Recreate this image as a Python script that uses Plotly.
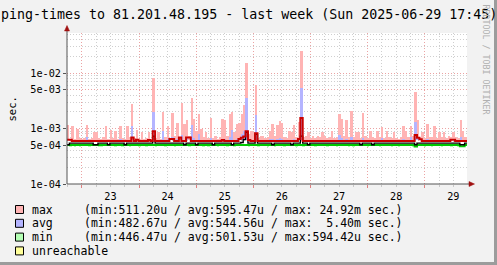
import plotly.graph_objects as go
import pandas as pd

# ---------------- data ----------------
START = "2025-06-22 17:45"
END = "2025-06-29 17:45"
TITLE = "ping-times to 81.201.48.195 - last week (Sun 2025-06-29 17:45)"
Y_TITLE = "sec."
WATERMARK = "RRDTOOL / TOBI OETIKER"

y_tickvals = [1e-4, 5e-4, 1e-3, 5e-3, 1e-2]
y_ticktext = ["1e-04", "5e-04", "1e-03", "5e-03", "1e-02"]

# hourly values, in units of 1e-4 s, starting at START
max_e4 = [
    11.4, 6.5, 11.0, 6.6, 10.0, 6.7, 6.4, 6.8, 11.4, 6.6, 6.8, 8.5,
    8.5, 6.7, 6.5, 6.9, 11.0, 6.6, 9.5, 6.7, 9.0, 6.6, 11.0, 6.8,
    6.6, 11.0, 6.9, 27.5, 6.7, 9.5, 6.6, 8.5, 6.5, 6.7, 8.5, 6.6,
    80.0, 6.8, 8.5, 6.6, 20.0, 6.9, 11.0, 6.7, 19.0, 7.2, 12.4, 7.0,
    29.0, 12.0, 14.0, 7.2, 35.0, 15.0, 9.0, 18.0, 10.0, 6.9, 8.5, 6.7,
    15.5, 6.8, 7.2, 6.6, 7.0, 15.0, 14.0, 7.3, 18.0, 20.0, 8.5, 12.0,
    12.5, 18.0, 26.0, 150.0, 7.8, 9.0, 8.5, 61.0, 6.8, 7.2, 7.2, 6.7,
    6.9, 9.0, 12.0, 7.2, 11.5, 13.5, 12.5, 7.0, 6.8, 9.0, 8.5, 11.5,
    7.0, 13.0, 249.0, 6.9, 7.2, 8.5, 6.7, 7.2, 6.8, 7.2, 6.9, 8.5,
    7.2, 6.7, 6.9, 9.0, 6.8, 7.0, 18.0, 15.0, 7.2, 14.5, 6.9, 21.0,
    6.9, 8.5, 8.5, 6.8, 19.0, 7.2, 6.7, 9.0, 6.9, 6.8, 9.0, 6.9,
    10.6, 6.8, 9.0, 6.9, 6.7, 8.5, 6.8, 6.6, 6.9, 11.0, 9.0, 6.9,
    11.0, 7.2, 46.0, 14.0, 7.0, 8.5, 6.8, 12.0, 6.9, 7.0, 11.0, 6.8,
    8.5, 6.9, 8.5, 6.8, 7.2, 6.9, 8.5, 7.0, 6.8, 14.0, 9.0, 6.9,
]

avg_e4 = [
    5.5, 5.4, 5.6, 5.5, 5.5, 5.4, 5.5, 5.6, 7.0, 5.5, 5.4, 5.5,
    5.6, 5.5, 5.4, 5.5, 5.6, 5.5, 5.5, 5.4, 5.6, 5.5, 6.5, 5.5,
    5.4, 5.5, 5.6, 11.0, 5.5, 5.6, 5.4, 5.5, 5.5, 5.4, 5.6, 5.5,
    20.0, 5.5, 5.4, 5.6, 9.0, 5.5, 6.5, 5.5, 7.0, 5.4, 6.6, 5.5,
    7.5, 5.6, 6.8, 5.5, 11.7, 6.8, 5.5, 8.0, 5.6, 5.4, 5.5, 5.5,
    6.8, 5.5, 5.4, 5.5, 5.6, 6.6, 6.5, 5.5, 7.0, 9.5, 5.5, 6.6,
    6.8, 8.0, 9.0, 35.0, 5.6, 5.5, 5.4, 17.3, 5.5, 5.6, 5.4, 5.5,
    5.5, 6.4, 6.6, 5.5, 6.5, 6.8, 6.6, 5.4, 5.5, 5.6, 5.5, 6.5,
    5.5, 6.8, 54.0, 5.5, 5.4, 5.6, 5.5, 5.5, 5.4, 5.6, 5.5, 5.5,
    5.6, 5.4, 5.5, 5.5, 5.6, 5.4, 7.5, 6.8, 5.5, 6.6, 5.5, 7.0,
    5.5, 5.6, 5.4, 5.5, 6.8, 5.5, 5.6, 5.4, 5.5, 5.5, 5.6, 5.4,
    6.8, 5.5, 5.6, 5.5, 5.4, 5.5, 5.6, 5.5, 5.4, 6.5, 5.5, 5.6,
    7.0, 5.5, 13.3, 6.8, 5.6, 5.5, 5.4, 6.4, 5.5, 5.6, 6.2, 5.5,
    5.4, 5.5, 5.6, 5.5, 5.5, 5.4, 5.6, 5.5, 5.5, 7.0, 5.6, 5.5,
]

min_e4 = [
    5.0, 4.7, 5.0, 4.8, 5.0, 4.7, 5.0, 5.0, 5.0, 4.8, 5.0, 5.0,
    5.0, 4.7, 4.8, 5.0, 5.0, 5.0, 5.0, 5.0, 4.7, 5.0, 5.0, 4.8,
    5.0, 5.0, 4.7, 5.0, 5.0, 5.0, 4.8, 5.0, 5.0, 4.7, 5.0, 5.0,
    5.0, 4.8, 5.0, 5.0, 5.0, 4.7, 5.0, 5.0, 5.0, 4.8, 5.0, 5.0,
    5.0, 5.0, 5.0, 4.7, 5.0, 5.0, 5.0, 5.0, 5.0, 4.8, 5.0, 4.7,
    5.0, 5.0, 5.0, 4.8, 5.0, 5.0, 5.0, 4.7, 5.0, 5.0, 4.8, 5.0,
    5.0, 5.0, 5.0, 5.0, 4.7, 5.0, 5.0, 5.0, 4.8, 5.0, 5.0, 5.0,
    4.7, 5.0, 5.0, 4.8, 5.0, 5.0, 5.0, 4.7, 5.0, 5.0, 5.0, 5.0,
    4.8, 5.0, 5.0, 4.7, 5.0, 5.0, 5.0, 5.0, 4.8, 5.0, 5.0, 5.0,
    5.0, 4.7, 5.0, 5.0, 5.0, 4.8, 5.0, 5.0, 5.0, 5.0, 4.7, 5.0,
    4.8, 5.0, 5.0, 5.0, 5.0, 5.0, 4.7, 5.0, 5.0, 5.0, 5.0, 4.8,
    5.0, 5.0, 5.0, 5.0, 4.7, 5.0, 5.0, 4.8, 5.0, 5.0, 5.0, 5.0,
    5.0, 4.7, 5.0, 5.0, 5.0, 5.0, 4.8, 5.0, 5.0, 4.7, 5.0, 5.0,
    5.0, 4.8, 5.0, 5.0, 5.0, 4.7, 5.0, 5.0, 4.8, 5.0, 5.0, 5.0,
]

max_line_e4 = [
    6.3, 6.3, 5.95, 5.95, 5.95, 5.95, 5.95, 5.95, 5.95, 5.95, 5.95, 5.95,
    5.95, 5.95, 5.95, 5.95, 5.95, 5.95, 5.95, 5.95, 5.95, 5.95, 5.95, 5.95,
    5.95, 5.95, 5.95, 6.9, 5.95, 6.3, 5.95, 5.95, 5.95, 5.95, 6.2, 5.95,
    8.9, 5.95, 5.95, 5.95, 5.95, 5.95, 5.95, 6.5, 6.5, 5.95, 5.95, 6.9,
    5.95, 5.95, 6.9, 6.9, 5.95, 5.95, 5.95, 5.95, 5.95, 5.95, 5.95, 5.95,
    5.95, 5.95, 5.95, 5.95, 5.95, 6.2, 5.95, 5.95, 5.95, 5.95, 5.95, 5.95,
    6.5, 6.8, 7.2, 8.9, 6.2, 5.95, 5.95, 8.2, 5.95, 5.95, 5.95, 5.95,
    5.95, 5.95, 5.95, 5.95, 5.95, 5.95, 5.95, 5.95, 5.95, 5.95, 5.95, 5.95,
    5.95, 6.5, 15.4, 5.95, 5.95, 5.95, 5.95, 5.95, 5.95, 5.95, 5.95, 5.95,
    5.95, 5.95, 5.95, 5.95, 5.95, 5.95, 5.95, 5.95, 5.95, 5.95, 5.95, 5.95,
    5.95, 5.95, 5.95, 5.95, 5.95, 5.95, 5.95, 5.95, 5.95, 5.95, 5.95, 5.95,
    5.95, 5.95, 5.95, 5.95, 5.95, 5.95, 5.95, 5.95, 5.95, 5.95, 5.95, 5.95,
    5.95, 5.95, 7.6, 6.8, 6.4, 5.95, 5.95, 5.95, 5.95, 5.95, 5.95, 5.95,
    5.95, 5.95, 5.95, 5.95, 5.95, 6.3, 6.3, 5.95, 5.95, 5.95, 5.95, 5.95,
]

avg_line_e4 = [
    5.1, 5.45, 5.45, 5.45, 5.45, 5.45, 5.45, 5.45, 5.45, 5.45, 5.45, 5.1,
    5.1, 5.45, 5.45, 5.45, 5.45, 5.1, 5.45, 5.45, 5.45, 5.45, 5.45, 5.45,
    5.1, 5.45, 5.45, 5.45, 5.45, 5.45, 5.45, 5.45, 5.45, 5.45, 5.45, 5.45,
    7.3, 5.45, 5.45, 5.45, 5.45, 5.45, 5.45, 5.45, 5.45, 5.45, 5.45, 5.45,
    5.45, 5.1, 5.45, 5.45, 5.45, 5.45, 5.1, 5.45, 5.45, 5.45, 5.45, 5.45,
    5.45, 5.1, 5.45, 5.45, 5.45, 5.45, 5.45, 5.45, 5.45, 5.1, 5.45, 5.45,
    5.45, 5.6, 6.3, 8.5, 5.45, 5.45, 5.45, 7.9, 5.45, 5.45, 5.45, 5.45,
    5.45, 5.45, 5.1, 5.45, 5.45, 5.45, 5.45, 5.45, 5.45, 5.45, 5.1, 5.45,
    5.45, 5.45, 7.3, 5.45, 5.45, 5.1, 5.45, 5.45, 5.45, 5.45, 5.45, 5.45,
    5.45, 5.45, 5.45, 5.45, 5.45, 5.45, 5.45, 5.45, 5.45, 5.45, 5.45, 5.45,
    5.45, 5.45, 5.45, 5.1, 5.45, 5.45, 5.45, 5.45, 5.1, 5.45, 5.45, 5.45,
    5.45, 5.45, 5.45, 5.45, 5.45, 5.45, 5.45, 5.45, 5.45, 5.45, 5.45, 5.45,
    5.45, 5.45, 5.1, 5.45, 5.45, 5.45, 5.45, 5.45, 5.45, 5.45, 5.45, 5.45,
    5.45, 5.45, 5.45, 5.45, 5.45, 5.45, 5.45, 5.45, 5.45, 5.1, 5.1, 5.45,
]

min_line_e4 = [
    5.02, 5.02, 5.02, 5.02, 5.02, 5.02, 5.02, 5.02, 5.02, 5.02, 5.02, 5.02,
    5.02, 5.02, 5.02, 5.02, 5.02, 5.02, 5.02, 5.02, 5.02, 5.02, 5.02, 5.02,
    5.02, 5.02, 5.02, 5.02, 5.02, 5.02, 5.02, 5.02, 5.02, 5.02, 5.02, 5.02,
    5.02, 5.02, 5.02, 5.02, 5.02, 5.02, 5.02, 5.02, 5.02, 5.02, 5.02, 5.02,
    5.02, 5.02, 5.02, 5.02, 5.02, 5.02, 5.02, 5.02, 5.02, 5.02, 5.02, 5.02,
    5.02, 5.02, 5.02, 5.02, 5.02, 5.02, 5.02, 5.02, 5.02, 5.02, 5.02, 5.02,
    5.02, 5.02, 5.02, 5.02, 5.02, 5.02, 5.02, 5.02, 5.02, 5.02, 5.02, 5.02,
    5.02, 5.02, 5.02, 5.02, 5.02, 5.02, 5.02, 5.02, 5.02, 5.02, 5.02, 5.02,
    5.02, 5.02, 5.02, 5.02, 5.02, 5.02, 5.02, 5.02, 5.02, 5.02, 5.02, 5.02,
    5.02, 5.02, 5.02, 5.02, 5.02, 5.02, 5.02, 5.02, 5.02, 5.02, 5.02, 5.02,
    5.02, 5.02, 5.02, 5.02, 5.02, 5.02, 5.02, 5.02, 5.02, 5.02, 5.02, 5.02,
    5.02, 5.02, 5.02, 5.02, 5.02, 5.02, 5.02, 5.02, 5.02, 5.02, 5.02, 5.02,
    5.02, 5.02, 4.75, 5.02, 5.02, 5.02, 5.02, 5.02, 5.02, 5.02, 5.02, 5.02,
    5.02, 5.02, 5.02, 5.02, 5.02, 5.02, 5.02, 5.02, 5.02, 4.8, 4.8, 5.02,
]

legend_names = ["max", "avg", "min", "unreachable"]
legend_stats = [
    "(min:511.20u / avg:595.47u / max: 24.92m sec.)",
    "(min:482.67u / avg:544.56u / max:  5.40m sec.)",
    "(min:446.47u / avg:501.53u / max:594.42u sec.)",
    "",
]
legend_colors = ["#ffb4b4", "#b4b4ff", "#b4ffb4", "#ffff99"]

# ---------------- styling ----------------
W, H = 497, 265
PL, PT, PW, PH = 67, 33, 400, 151   # plot area in pixels
FONT = "DejaVu Sans Mono"
BG = "#f2f2f2"
MAJOR_GRID = "#eba3a3"
MINOR_GRID = "#cfcfcf"
DOTS = "1px,2px"
BAR_BASE = 6.1e-4
MIN_TOP = 4.95e-4
U = 1e-4


def px(x):
    return (x - PL) / PW


def py(y):
    return (PT + PH - y) / PH


t0 = pd.Timestamp(START)
n = len(max_e4)
starts = [t0 + pd.Timedelta(hours=i) for i in range(n)]
mids = [t + pd.Timedelta(minutes=30) for t in starts]
end_t = pd.Timestamp(END)
BAR_MS = 3000000

fig = go.Figure()

fig.add_bar(x=mids, y=[max(v * U - BAR_BASE, 0) for v in max_e4], base=BAR_BASE,
            width=BAR_MS, marker=dict(color=legend_colors[0], line=dict(width=0)),
            hoverinfo="skip", showlegend=False)
fig.add_bar(x=mids, y=[max(v * U - BAR_BASE, 0) for v in avg_e4], base=BAR_BASE,
            width=BAR_MS, marker=dict(color=legend_colors[1], line=dict(width=0)),
            hoverinfo="skip", showlegend=False)
fig.add_bar(x=mids, y=[max(MIN_TOP - v * U, 0) for v in min_e4], base=[v * U for v in min_e4],
            width=BAR_MS, marker=dict(color=legend_colors[2], line=dict(width=0)),
            hoverinfo="skip", showlegend=False)


def step_line(vals, color, width):
    xs = starts + [end_t]
    ys = [v * U for v in vals] + [vals[-1] * U]
    fig.add_scatter(x=xs, y=ys, mode="lines", line=dict(color=color, width=width, shape="hv"),
                    hoverinfo="skip", showlegend=False)


step_line(min_line_e4, "#00c800", 2)
step_line(avg_line_e4, "#000000", 1.4)
step_line(max_line_e4, "#c80000", 2)

shapes = []
annotations = []

# axis lines with arrows
AX = "#555555"
ARROW = "#a01010"
shapes.append(dict(type="line", xref="paper", yref="paper", x0=px(PL), x1=px(470), y0=py(184), y1=py(184),
                   line=dict(color=AX, width=1)))
shapes.append(dict(type="line", xref="paper", yref="paper", x0=px(PL), x1=px(PL), y0=py(184), y1=py(28),
                   line=dict(color=AX, width=1)))
shapes.append(dict(type="path", xref="paper", yref="paper",
                   path=f"M {px(469)} {py(181.5)} L {px(474.5)} {py(184)} L {px(469)} {py(186.5)} Z",
                   fillcolor=ARROW, line=dict(color=ARROW, width=0.5)))
shapes.append(dict(type="path", xref="paper", yref="paper",
                   path=f"M {px(64.5)} {py(31)} L {px(67)} {py(25.5)} L {px(69.5)} {py(31)} Z",
                   fillcolor=ARROW, line=dict(color=ARROW, width=0.5)))

# frame (dark bottom/right edges)
shapes.append(dict(type="rect", xref="paper", yref="paper", x0=px(494), x1=px(497), y0=py(0), y1=py(265),
                   fillcolor="#9c9c9c", line=dict(width=0)))
shapes.append(dict(type="rect", xref="paper", yref="paper", x0=px(0), x1=px(497), y0=py(262), y1=py(265),
                   fillcolor="#9c9c9c", line=dict(width=0)))

# legend
row_y = [209.5, 223.3, 237.1, 250.9]
for name, stats, col, yy in zip(legend_names, legend_stats, legend_colors, row_y):
    shapes.append(dict(type="rect", xref="paper", yref="paper", x0=px(15.5), x1=px(23.5),
                       y0=py(yy - 4), y1=py(yy + 4), fillcolor=col, line=dict(color="#000000", width=1)))
    annotations.append(dict(xref="paper", yref="paper", x=px(30), y=py(yy), xanchor="left", yanchor="middle",
                            text=name, showarrow=False, font=dict(family=FONT, size=11.5, color="#000")))
    if stats:
        annotations.append(dict(xref="paper", yref="paper", x=px(81.5), y=py(yy), xanchor="left",
                                yanchor="middle", text=stats.replace(" ", "\u00a0"), showarrow=False,
                                font=dict(family=FONT, size=11.5, color="#000")))

# title, axis title, watermark
annotations.append(dict(xref="paper", yref="paper", x=px(248.5), y=py(14), xanchor="center", yanchor="middle",
                        text=TITLE, showarrow=False, font=dict(family=FONT, size=13.3, color="#000")))
annotations.append(dict(xref="paper", yref="paper", x=px(11), y=py(108.5), xanchor="center", yanchor="middle",
                        text=Y_TITLE, textangle=-90, showarrow=False,
                        font=dict(family=FONT, size=10.5, color="#000")))
annotations.append(dict(xref="paper", yref="paper", x=px(486), y=py(59.5), xanchor="center", yanchor="middle",
                        text=WATERMARK, textangle=90, showarrow=False,
                        font=dict(family=FONT, size=8.3, color="#b0b0b0")))

fig.update_layout(
    width=W, height=H,
    margin=dict(l=PL, r=W - PL - PW, t=PT, b=H - PT - PH, pad=0),
    paper_bgcolor=BG, plot_bgcolor="#ffffff",
    barmode="overlay", bargap=0,
    showlegend=False,
    shapes=shapes, annotations=annotations,
    xaxis=dict(
        type="date", range=[START, END],
        tick0="2025-06-23", dtick=86400000, tickformat="%d", ticklabelmode="period",
        showgrid=True, gridcolor=MAJOR_GRID, griddash=DOTS, gridwidth=1,
        ticks="outside", ticklen=3, tickcolor="#e08080",
        minor=dict(dtick=21600000, tick0="2025-06-23", showgrid=True, gridcolor=MINOR_GRID,
                   griddash=DOTS, ticks="outside", ticklen=2, tickcolor="#c8c8c8"),
        showline=False, zeroline=False,
        tickfont=dict(family=FONT, size=10.2, color="#000"),
        fixedrange=True,
    ),
    yaxis=dict(
        type="log", range=[-4, -1.279],
        tickvals=y_tickvals, ticktext=y_ticktext,
        showgrid=True, gridcolor=MAJOR_GRID, griddash=DOTS, gridwidth=1,
        ticks="outside", ticklen=3, tickcolor="#555555",
        minor=dict(dtick="D1", showgrid=True, gridcolor=MINOR_GRID, griddash=DOTS, ticks=""),
        showline=False, zeroline=False,
        tickfont=dict(family=FONT, size=10.2, color="#000"),
        fixedrange=True,
    ),
)

fig.write_html("out.html", config={"displayModeBar": False})
